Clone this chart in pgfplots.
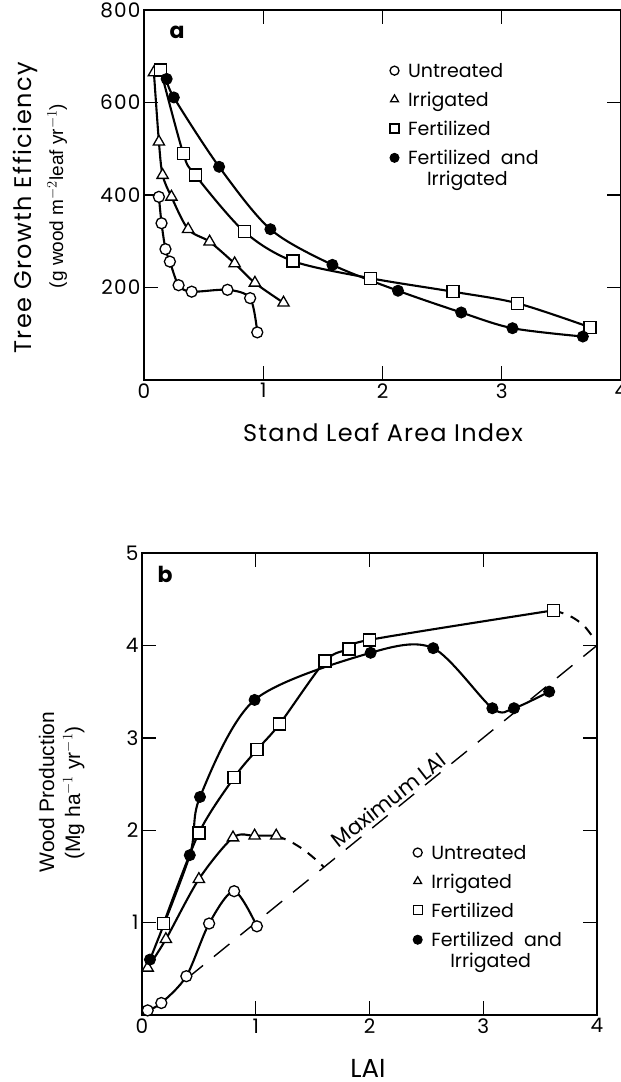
\documentclass[border=0pt]{standalone}
\usepackage{fontspec}
\setmainfont{Poppins}
\newfontfamily\arial{Liberation Sans}
\usepackage{pgfplots}
\pgfplotsset{compat=1.18}

\pgfplotsset{
  panel/.style={
    scale only axis, anchor=south west, xmin=0, xmax=4,
    axis line style={line width=1.5pt},
    tick style={line width=1.4pt, black},
    major tick length=14pt,
    ticklabel style={font=\fontsize{20}{20}\selectfont\addfontfeatures{LetterSpace=6}},
    /pgf/number format/assume math mode=true,
    legend cell align=left,
    legend style={draw=none, fill=none, inner sep=0pt, row sep=10pt,
      font=\fontsize{19}{21}\selectfont,
      nodes={align=left, inner sep=1.5pt}},
    legend image code/.code={\path (-4pt,0pt) (13pt,0pt);
      \draw[##1, mark size=4.5pt, line width=1.3pt] plot coordinates {(2pt,1pt)};},
  },
  ser/.style={black, line width=2.1pt, smooth, tension=0.5},
  mo/.style={mark=*, mark size=5.5pt, mark options={fill=white, draw=black, line width=1.3pt}},
  mt/.style={mark=triangle*, mark size=6.5pt, mark options={fill=white, line width=1.3pt}},
  ms/.style={mark=square*, mark size=6pt, mark options={fill=white, line width=1.3pt}},
  mf/.style={mark=*, mark size=5.5pt, mark options={fill=black, line width=1pt},
    legend image code/.code={\path (-4pt,0pt) (13pt,0pt);
      \draw[##1, mark size=4.5pt, line width=1.3pt] plot coordinates {(2pt,11pt)};}},
}

\begin{document}
\begin{tikzpicture}
\useasboundingbox (0pt,0pt) rectangle (621pt,-1082pt);

% ---------- panel a ----------
\begin{axis}[panel, at={(144pt,-380pt)}, width=477pt, height=370pt,
    ymin=0, ymax=800, xtick={0,1,2,3,4}, ytick={200,400,600,800},
    legend style={at={(axis description cs:0.51,0.859)}, anchor=north west}]
  \addplot[ser, mo] coordinates {
    (0.125,396) (0.147,339) (0.18,283) (0.217,256) (0.29,205)
    (0.40,191) (0.70,195) (0.89,177) (0.95,103)};
  \addlegendentry{Untreated}
  \addplot[ser, mt] coordinates {
    (0.083,665) (0.125,515) (0.156,443) (0.23,396) (0.37,326)
    (0.55,299) (0.76,252) (0.93,210) (1.17,167)};
  \addlegendentry{Irrigated}
  \addplot[ser, ms] coordinates {
    (0.14,670) (0.33,489) (0.43,443) (0.84,321) (1.25,257)
    (1.90,220) (2.59,191) (3.13,166) (3.74,114)};
  \addlegendentry{Fertilized}
  \addplot[ser, mf] coordinates {
    (0.19,651) (0.25,611) (0.63,461) (1.06,326) (1.58,249)
    (2.13,193) (2.66,146) (3.09,112) (3.68,94)};
  \addlegendentry{Fertilized\ \ and\\\hspace*{1em}Irrigated}
\end{axis}

\node[anchor=base west, font=\fontsize{22}{22}\selectfont\bfseries] at (166pt,-38pt) {a};
\node[anchor=base, font=\fontsize{24}{24}\selectfont\addfontfeatures{LetterSpace=5}]
  at (383pt,-441pt) {Stand Leaf Area Index};
\node[anchor=base, rotate=90, font=\fontsize{24}{24}\selectfont\addfontfeatures{LetterSpace=6}]
  at (31pt,-208pt) {Tree Growth Efficiency};
\node[anchor=base, rotate=90, font=\arial\fontsize{19}{19}\selectfont] at (63pt,-196pt)
  {(g wood m$^{-2}$leaf yr$^{-1}$)};

% ---------- panel b ----------
\begin{axis}[panel, at={(142pt,-1015pt)}, width=455pt, height=462pt,
    ymin=0, ymax=5, xtick={0,1,2,3,4}, ytick={1,2,3,4,5},
    legend style={at={(axis description cs:0.59,0.37)}, anchor=north west}]
  % maximum LAI line
  \addplot[black, line width=1.4pt, dash pattern=on 20pt off 14pt, forget plot]
    coordinates {(0.4,0.4) (4,4)};
  \addplot[ser, mo] coordinates {
    (0.05,0.05) (0.17,0.13) (0.39,0.42) (0.59,0.99) (0.81,1.34) (1.01,0.96)};
  \addlegendentry{Untreated}
  \addplot[black, line width=2pt, smooth, dash pattern=on 10pt off 8pt, forget plot]
    coordinates {(1.18,1.94) (1.30,1.88) (1.42,1.79) (1.53,1.68) (1.60,1.60)};
  \addplot[ser, mt] coordinates {
    (0.05,0.51) (0.21,0.82) (0.50,1.47) (0.80,1.92) (0.99,1.94) (1.18,1.94)};
  \addlegendentry{Irrigated}
  \addplot[black, line width=2pt, smooth, dash pattern=on 10pt off 8pt, forget plot]
    coordinates {(3.62,4.38) (3.76,4.32) (3.88,4.22) (3.97,4.08)};
  \addplot[ser, ms] coordinates {
    (0.19,0.99) (0.50,1.97) (0.81,2.57) (1.01,2.87) (1.21,3.15)
    (1.61,3.83) (1.82,3.96) (2.0,4.06) (3.62,4.38)};
  \addlegendentry{Fertilized}
  \addplot[ser, mf] coordinates {
    (0.07,0.60) (0.42,1.73) (0.51,2.36) (0.99,3.41) (2.01,3.92)
    (2.56,3.97) (3.08,3.32) (3.27,3.32) (3.58,3.50)};
  \addlegendentry{Fertilized\ \ and\\\hspace*{1em}Irrigated}
  \node[rotate=38, anchor=base, inner sep=0pt, font=\fontsize{21}{21}\selectfont]
    at (axis cs:2.21,2.26) {Maximum LAI};
\end{axis}

\node[anchor=base west, font=\fontsize{22}{22}\selectfont\bfseries] at (154pt,-582pt) {b};
\node[anchor=base, inner sep=0pt, font=\fontsize{26}{26}\selectfont] at (368pt,-1077pt) {LAI};
\node[anchor=base, rotate=90, font=\arial\fontsize{21}{21}\selectfont] at (54pt,-792pt) {Wood Production};
\node[anchor=base, rotate=90, font=\arial\fontsize{21}{21}\selectfont] at (80pt,-793pt)
  {(Mg ha$^{-1}$ yr$^{-1}$)};
\end{tikzpicture}
\end{document}
